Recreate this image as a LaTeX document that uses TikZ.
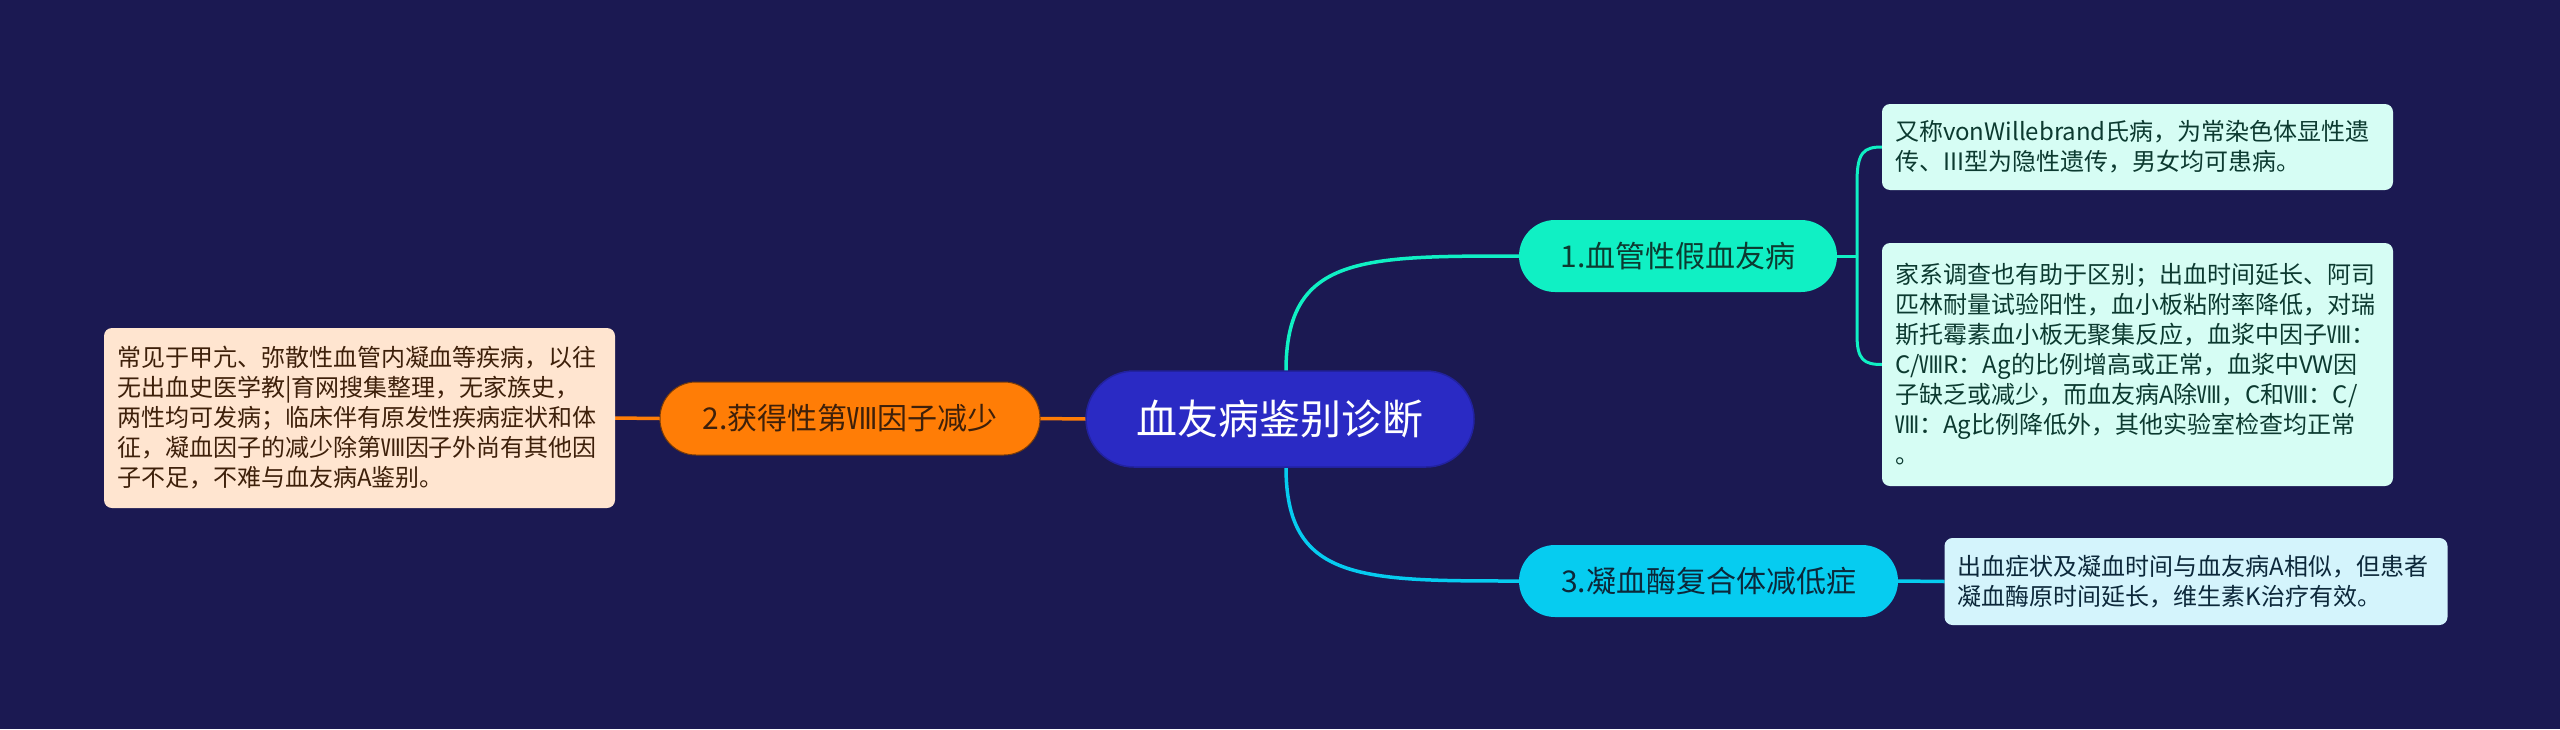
\documentclass[tikz,border=0pt]{standalone}
\usepackage{fontspec}
\setmainfont{Noto Sans CJK SC}
\usetikzlibrary{backgrounds}
\definecolor{bgc}{RGB}{27,25,82}
\definecolor{cmain}{RGB}{42,42,196}
\definecolor{cmainb}{RGB}{34,34,160}
\definecolor{cteal}{RGB}{16,240,196}
\definecolor{ccyan}{RGB}{6,204,240}
\definecolor{corange}{RGB}{255,125,6}
\definecolor{lteal}{RGB}{214,253,244}
\definecolor{lcyan}{RGB}{212,244,252}
\definecolor{lorange}{RGB}{255,229,208}
\definecolor{tteal}{RGB}{12,58,48}
\definecolor{tcyan}{RGB}{12,40,58}
\definecolor{torange}{RGB}{62,32,10}
\begin{document}
\begin{tikzpicture}[x=1pt,y=-1pt,
  base/.style={inner sep=0pt, outer sep=0pt},
  topic/.style={base, rounded corners=36pt, minimum height=72pt, font=\fontsize{30}{36}\selectfont},
  leaf/.style={base, rounded corners=8pt, align=left, font=\fontsize{24}{30}\selectfont},
  link/.style={line width=3.5pt},
  thinlink/.style={line width=3pt}]
\useasboundingbox (0,0) rectangle (2560,729);
% nodes
\node[base, fill=cmain, draw=cmainb, line width=1.5pt, rounded corners=48pt,
  minimum width=388pt, minimum height=96pt, text=white,
  font=\fontsize{41}{48}\selectfont] (root) at (1280,419) {血友病鉴别诊断};
\node[topic, fill=cteal, text=tteal, minimum width=318pt] (n1) at (1678,256) {1.血管性假血友病};
\node[topic, fill=corange, draw=torange!70!corange, line width=1pt, text=torange, minimum width=380pt, minimum height=73pt] (n2) at (850,418.5) {2.获得性第Ⅷ因子减少};
\node[topic, fill=ccyan, text=tcyan, minimum width=379pt] (n3) at (1708.5,581) {3.凝血酶复合体减低症};
\node[leaf, fill=lteal, text=tteal, minimum width=511pt, minimum height=86pt, text width=485pt] (l1a) at (2137.5,147)
  {又称vonWillebrand氏病，为常染色体显性遗\\传、III型为隐性遗传，男女均可患病。};
\node[leaf, fill=lteal, text=tteal, minimum width=511pt, minimum height=243pt, text width=485pt] (l1b) at (2137.5,364.5)
  {家系调查也有助于区别；出血时间延长、阿司\\匹林耐量试验阳性，血小板粘附率降低，对瑞\\斯托霉素血小板无聚集反应，血浆中因子Ⅷ：\\C/ⅧR：Ag的比例增高或正常，血浆中VW因\\子缺乏或减少，而血友病A除Ⅷ，C和Ⅷ：C/\\Ⅷ：Ag比例降低外，其他实验室检查均正常\\。};
\node[leaf, fill=lcyan, text=tcyan, minimum width=503pt, minimum height=87pt, text width=477pt] (l3) at (2196,581.5)
  {出血症状及凝血时间与血友病A相似，但患者\\凝血酶原时间延长，维生素K治疗有效。};
\node[leaf, fill=lorange, text=torange, minimum width=511pt, minimum height=180pt, text width=485pt] (l2) at (359.5,418)
  {常见于甲亢、弥散性血管内凝血等疾病，以往\\无出血史医学教|育网搜集整理，无家族史，\\两性均可发病；临床伴有原发性疾病症状和体\\征，凝血因子的减少除第Ⅷ因子外尚有其他因\\子不足，不难与血友病A鉴别。};
% connectors
\begin{scope}[on background layer]
\fill[bgc] (0,0) rectangle (2560,729);
\coordinate (rt) at ([xshift=6pt]root.north);
\coordinate (rb) at ([xshift=6pt]root.south);
\coordinate (j1) at (1857,256);
\draw[link, cteal] (rt) .. controls (1286,256) and (1360,256) .. (n1.west);
\draw[link, ccyan] (rb) .. controls (1286,581) and (1360,581) .. (n3.west);
\draw[link, corange] (root.west) -- (n2.east);
\draw[link, corange] (n2.west) -- (l2.east);
\draw[thinlink, cteal] (n1.east) -- (j1);
\draw[thinlink, cteal] (j1) -- (1857,182) .. controls (1857,152) and (1864,147) .. (l1a.west);
\draw[thinlink, cteal] (j1) -- (1857,335) .. controls (1857,360) and (1864,364.5) .. (l1b.west);
\draw[link, ccyan] (n3.east) -- (l3.west);
\end{scope}
\end{tikzpicture}
\end{document}
